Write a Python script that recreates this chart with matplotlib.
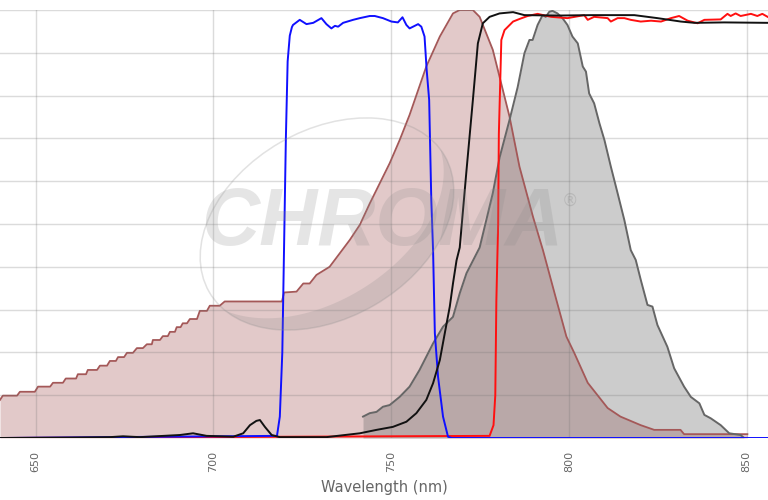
import matplotlib
matplotlib.use("Agg")
import numpy as np
import matplotlib.pyplot as plt
from matplotlib.patches import Ellipse, Polygon

# ---------------- data (wavelength nm, % value) ----------------
ex_wl = [640.0, 640.8, 644.8, 645.6, 649.8, 650.7, 654.1, 654.9, 657.7, 658.5, 661.4,
         661.9, 664.2, 664.7, 667.3, 668.1, 670.1, 670.9, 672.6, 673.2, 674.9, 675.7,
         677.4, 678.5, 680.2, 681.3, 682.7, 683.0, 685.0, 685.8, 687.2, 687.8, 689.2,
         689.7, 690.8, 691.4, 692.6, 693.4, 695.4, 696.2, 698.2, 699.0, 701.8, 703.2,
         719.3, 719.9, 723.4, 725.3, 727.1, 729.0, 732.7, 735.6, 738.4, 741.2, 744.0,
         746.8, 749.6, 752.4, 755.2, 759.9, 763.7, 767.4, 769.3, 773.0, 774.9, 778.6,
         783.3, 786.1, 789.9, 792.7, 796.5, 799.3, 801.5, 805.3, 810.9, 814.5, 820.2,
         824.0, 831.4, 832.4, 850.2]
ex_val = [8.9, 9.9, 9.9, 10.8, 10.8, 12.0, 12.0, 12.9, 12.9, 13.9, 13.9,
          14.9, 14.9, 15.9, 15.9, 16.9, 16.9, 18.0, 18.0, 18.9, 18.9, 19.9,
          19.9, 21.0, 21.0, 21.9, 21.9, 22.9, 22.9, 23.8, 23.8, 24.8, 24.8,
          25.9, 25.9, 26.8, 26.8, 27.8, 27.8, 29.7, 29.7, 30.9, 30.9, 31.9,
          31.9, 34.0, 34.2, 36.1, 36.1, 38.1, 40.0, 43.2, 46.3, 49.8, 54.8,
          59.5, 64.2, 69.6, 75.5, 86.8, 93.8, 99.2, 100.0, 100.0, 98.4, 90.7,
          75.1, 63.4, 51.7, 43.9, 32.2, 23.7, 19.9, 12.9, 7.0, 5.0, 3.0,
          1.9, 1.9, 0.9, 0.9]

em_wl = [742.1, 744.0, 745.9, 747.7, 749.6, 752.4, 755.2, 758.0, 759.9, 761.8, 764.6,
         767.4, 769.3, 771.2, 774.9, 778.6, 780.5, 783.3, 785.6, 787.5, 788.9, 789.8,
         791.2, 792.6, 793.5, 794.5, 795.4, 796.8, 798.2, 799.6, 801.0, 802.5, 803.9,
         804.8, 805.7, 807.1, 808.6, 810.0, 811.8, 813.7, 815.6, 817.4, 818.8, 820.2,
         822.1, 823.5, 824.9, 827.7, 829.6, 832.4, 834.3, 836.7, 838.1, 839.9, 842.7,
         845.1, 848.3, 849.3]
em_val = [5.0, 5.8, 6.1, 7.3, 7.7, 9.6, 12.0, 15.9, 19.0, 22.1, 26.0,
          28.3, 33.8, 38.5, 44.5, 57.2, 65.5, 74.3, 82.0, 89.9, 93.0, 93.0,
          96.5, 98.8, 98.4, 99.6, 99.8, 99.2, 98.1, 96.5, 93.8, 92.2, 86.8,
          85.6, 80.5, 78.2, 73.5, 69.6, 63.4, 57.2, 50.9, 43.9, 41.6, 37.0,
          31.1, 30.7, 26.4, 21.3, 16.3, 12.0, 9.6, 8.1, 5.4, 4.6, 3.0,
          1.1, 0.7, 0.0]

exf_wl = [640.0, 717.9, 718.7, 719.4, 719.8, 720.4, 720.9, 721.5, 722.1, 722.4, 724.3,
          726.2, 728.1, 730.4, 731.8, 733.2, 734.2, 735.1, 736.5, 739.3, 741.2, 744.0,
          745.4, 747.7, 750.1, 751.9, 753.2, 754.3, 755.2, 757.6, 758.5, 759.4, 760.0,
          760.7, 761.3, 761.8, 762.3, 763.2, 764.6, 766.0, 767.0, 856.0]
exf_val = [0.0, 0.5, 5.0, 20.0, 40.0, 70.0, 88.0, 94.0, 96.0, 96.5, 97.7,
           96.7, 97.0, 98.1, 96.7, 95.7, 96.3, 96.1, 97.0, 97.7, 98.1, 98.6,
           98.6, 98.1, 97.3, 97.1, 98.3, 96.5, 95.7, 96.7, 96.1, 93.8, 86.0,
           79.0, 55.6, 43.9, 24.5, 14.3, 5.0, 0.3, 0.0, 0.0]

dic_wl = [640.0, 660.0, 670.9, 674.6, 679.3, 690.6, 694.3, 698.1, 705.6, 708.4, 710.3,
          712.1, 713.1, 714.5, 716.4, 718.7, 731.8, 741.2, 745.9, 750.5, 754.3, 757.1,
          759.9, 761.8, 763.7, 765.1, 766.5, 767.4, 768.4, 769.3, 771.2, 773.0, 774.4,
          775.8, 777.7, 780.5, 784.3, 787.5, 796.8, 806.2, 818.4, 824.9, 831.5, 835.3,
          843.7, 855.9]
dic_val = [0.0, 0.1, 0.2, 0.4, 0.2, 0.7, 1.1, 0.5, 0.3, 1.1, 3.0,
           4.0, 4.2, 2.6, 0.7, 0.2, 0.2, 1.1, 1.9, 2.6, 3.8, 5.8,
           8.9, 12.8, 18.2, 24.5, 30.7, 36.1, 41.5, 44.5, 62.5, 79.0, 92.2,
           96.9, 98.4, 99.2, 99.5, 98.8, 98.7, 98.8, 98.8, 98.1, 97.3, 97.0,
           97.1, 97.0]

emf_wl = [640.0, 777.7, 778.8, 779.3, 779.6, 780.1, 780.3, 781.0, 781.9, 784.3, 786.1,
          788.4, 791.2, 795.0, 799.6, 804.3, 805.3, 807.1, 810.9, 811.8, 813.7, 815.6,
          817.4, 820.2, 823.1, 825.9, 828.7, 831.0, 833.4, 836.2, 838.1, 842.7, 844.6,
          845.5, 846.9, 848.3, 851.2, 853.0, 854.4, 855.9]
emf_val = [0.0, 0.5, 3.0, 10.0, 32.0, 50.0, 71.0, 93.0, 95.3, 97.3, 97.9,
           98.6, 99.1, 98.4, 98.1, 98.8, 97.7, 98.4, 98.1, 97.3, 98.1, 98.1,
           97.7, 97.3, 97.5, 97.3, 98.1, 98.6, 97.5, 96.9, 97.7, 97.8, 99.1,
           98.6, 99.2, 98.6, 99.1, 98.6, 99.1, 98.4]

x_ticks = [650, 700, 750, 800, 850]
y_grid = list(range(0, 101, 10))
x_label = "Wavelength (nm)"

# ---------------- figure ----------------
fig = plt.figure(figsize=(7.68, 5.0), dpi=100)
ax = fig.add_axes([0.0, 0.124, 1.0, 0.856])
ax.set_xlim(640, 856)
ax.set_ylim(0, 100)

ax.fill_between(ex_wl, ex_val, 0, color=(0.60, 0.24, 0.24), alpha=0.28, lw=0, zorder=1)
ax.plot(ex_wl, ex_val, color="#a45858", lw=1.3, zorder=2)
ax.fill_between(em_wl, em_val, 0, color=(0.40, 0.40, 0.40), alpha=0.33, lw=0, zorder=1.5)
ax.plot(em_wl, em_val, color="#666666", lw=1.4, zorder=2)

ax.plot(emf_wl, emf_val, color="#ff1010", lw=1.4, zorder=3)
ax.plot(exf_wl, exf_val, color="#1010ff", lw=1.4, zorder=4)
ax.plot(dic_wl, dic_val, color="#111111", lw=1.4, zorder=5)

ax.set_xticks(x_ticks)
ax.set_xticklabels([str(t) for t in x_ticks], rotation=90, color="#666666", fontsize=8)
ax.set_yticks(y_grid)
ax.tick_params(axis="y", left=False, labelleft=False)
ax.tick_params(axis="x", length=0, pad=9)
ax.grid(True, color=(0.45, 0.45, 0.45), alpha=0.25, lw=1.0, zorder=2.5)
ax.set_axisbelow(False)
for s in ax.spines.values():
    s.set_visible(False)
ax.set_xlabel(x_label, color="#666666", fontsize=10.5, labelpad=6)

# ---------------- watermark overlay (pixel space, y up) ----------------
wm = fig.add_axes([0, 0, 1, 1], zorder=10)
wm.set_xlim(0, 768)
wm.set_ylim(0, 500)
wm.axis("off")
wm.patch.set_alpha(0)
wcol = (0.55, 0.55, 0.55)
cx, cy, a, b, ang = 327, 500 - 224, 136, 94, np.deg2rad(30)
wm.add_patch(Ellipse((cx, cy), 2 * a, 2 * b, angle=np.rad2deg(ang), fill=False,
                     ec=wcol, lw=1.1, alpha=0.25))
u = np.array([np.cos(ang), np.sin(ang)])
v = np.array([-np.sin(ang), np.cos(ang)])
t = np.deg2rad(np.linspace(195, 365, 120))
outer = np.array([cx, cy]) + np.outer(a * np.cos(t), u) + np.outer(b * np.sin(t), v)
k = 0.22 * np.sin(np.pi * (t - t[0]) / (t[-1] - t[0]))
inner = np.array([cx, cy]) + (np.outer(a * np.cos(t), u) + np.outer(b * np.sin(t), v)) * (1 - k)[:, None]
wm.add_patch(Polygon(np.vstack([outer, inner[::-1]]), closed=True, fc=wcol, ec="none", alpha=0.22))
wm.text(382, 500 - 224, "CHROMA", fontsize=58, fontweight="bold", fontstyle="italic",
        family="Liberation Sans", color=wcol, alpha=0.22, ha="center", va="center")
wm.text(570, 500 - 201, "®", fontsize=12, color=wcol, alpha=0.3, ha="center", va="center")

fig.savefig("out.png", dpi=100)
